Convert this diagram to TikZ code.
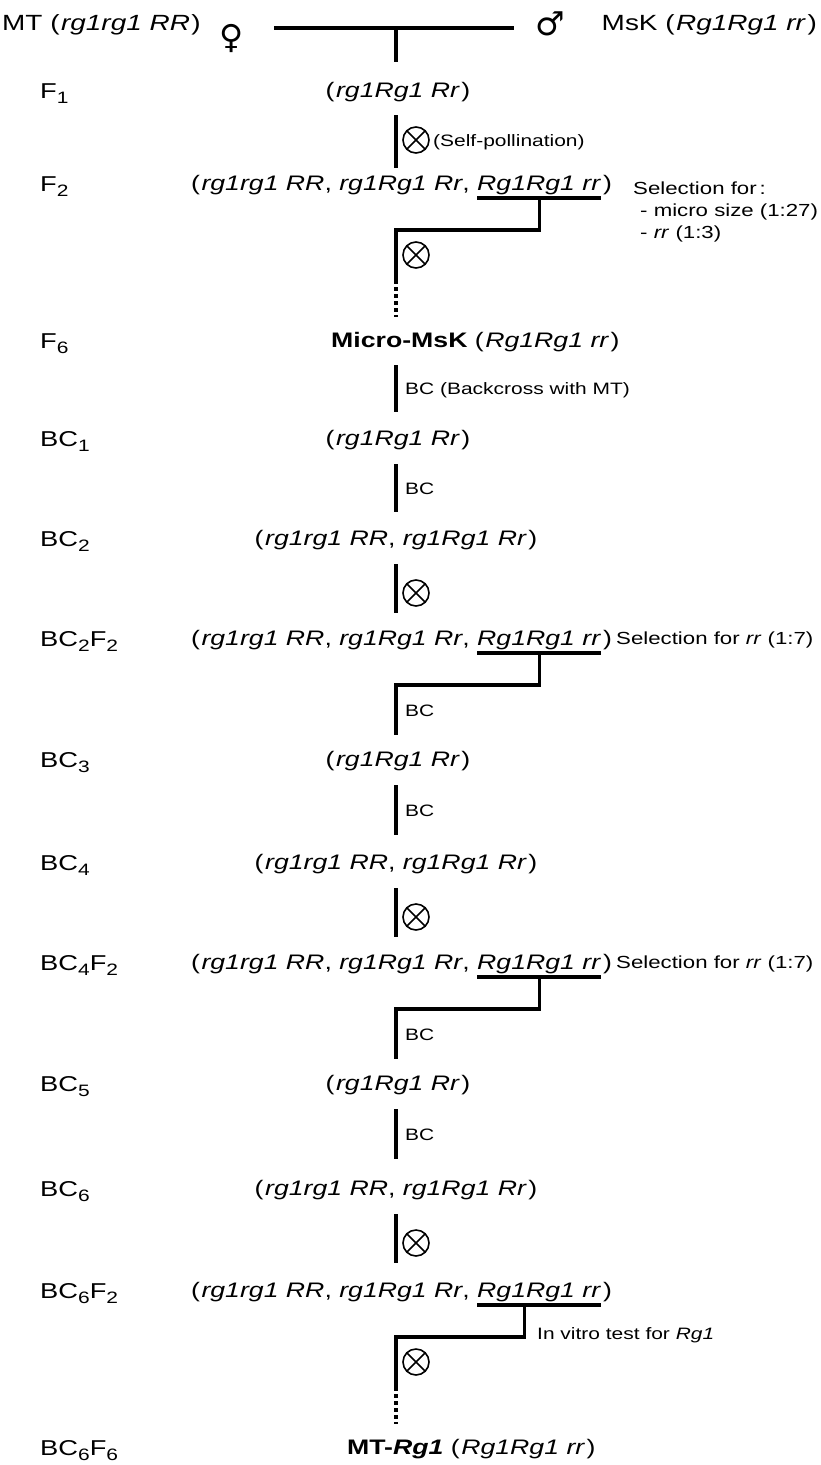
\documentclass[tikz,border=0pt]{standalone}
\usepackage{fontspec}
\setmainfont{Liberation Sans}[FakeStretch=1.27]
\newfontfamily\symf{DejaVu Sans}
\usetikzlibrary{calc}
\newcommand\lsub[1]{\raisebox{-5.5pt}{\fontsize{16.5}{17}\selectfont #1}}
\begin{document}
\begin{tikzpicture}[x=1pt,y=-1pt,
  lab/.style={anchor=base west, inner sep=0pt, font=\fontsize{21.5}{26}\selectfont},
  head/.style={inner sep=0pt, font=\fontsize{22}{26}\selectfont},
  geno/.style={inner sep=0pt, font=\fontsize{21}{25}\selectfont},
  ann/.style={anchor=base west, inner sep=0pt, font=\fontsize{16.5}{20}\selectfont},
  sel/.style={anchor=base west, inner sep=0pt, font=\fontsize{17.5}{21}\selectfont},
  sym/.style={inner sep=0pt, font=\symf\bfseries\fontsize{33}{33}\selectfont},
  link/.style={line width=3.2pt},
  dots/.style={line width=3.4pt, dash pattern=on 3.5pt off 3.5pt},
  selfx/.style={circle, draw, line width=1.6pt, minimum width=26pt, inner sep=0pt,
    path picture={\draw[line width=1.6pt] (path picture bounding box.south west) -- (path picture bounding box.north east)
      (path picture bounding box.north west) -- (path picture bounding box.south east);}},
]
\useasboundingbox (0,0) rectangle (821,1465);

% ---------- header ----------
\node[head, anchor=base west] (mt) at (2,30) {MT (\kern1.5pt\textit{rg1rg1 RR}\kern1.5pt)};
\node[sym] (fem) at (232,38) {♀};
\node[sym] (mal) at (550,24) {♂};
\node[head, anchor=base east] (msk) at (817,30) {MsK (\kern1.5pt\textit{Rg1Rg1 rr}\kern1.5pt)};
\coordinate (hl) at (274,28); \coordinate (hr) at (514,28);
\coordinate (hm) at (396,28); \coordinate (hb) at (396,62);
\draw[link] (hl) -- (hr);
\draw[link] (hm) -- (hb);

% ---------- F1 ----------
\node[lab] (lF1) at (40,98) {F\lsub{1}};
\node[geno, anchor=base] (gF1) at (398,97.5) {(\kern1.5pt\textit{rg1Rg1 Rr}\kern1.5pt)};
\coordinate (c1t) at (396,115); \coordinate (c1b) at (396,168);
\draw[link] (c1t) -- (c1b);
\node[selfx] (x1) at (416,140) {};
\node[ann] (sp) at (433,146) {(Self-pollination)};

% ---------- F2 ----------
\node[lab] (lF2) at (40,191) {F\lsub{2}};
\node[geno, anchor=base west] (gF2b) at (477,190.5) {\textit{Rg1Rg1 rr}};
\node[geno, anchor=base east] (gF2a) at ([xshift=-7pt]gF2b.base west) {(\kern1.5pt\textit{rg1rg1 RR}, \textit{rg1Rg1 Rr},};
\node[geno, anchor=base west] (gF2c) at (gF2b.base east) {\kern1.5pt)};
\coordinate (u2l) at ([yshift=-7.5pt]gF2b.base west);
\coordinate (u2r) at ([yshift=-7.5pt]gF2b.base east);
\coordinate (k2) at ($(u2l)!.5!(u2r)$);
\coordinate (j2) at (396,230); \coordinate (e2) at (396,280); \coordinate (d2) at (396,317);
\draw[link] (u2l) -- (u2r);
\draw[link] (k2) |- (j2) -- (e2);
\draw[dots] (e2) -- (d2);
\node[selfx] (x2) at (416,255) {};
\node[sel] (sel1) at (633,194) {Selection for\,:};
\node[sel] (sel2) at (640,216) {- micro size (1:27)};
\node[sel] (sel3) at (640,238) {- \textit{rr} (1:3)};

% ---------- F6 ----------
\node[lab] (lF6) at (40,348) {F\lsub{6}};
\node[geno, anchor=base west] (gF6) at (331,347.5) {\textbf{Micro-MsK} (\kern1.5pt\textit{Rg1Rg1 rr}\kern1.5pt)};
\coordinate (c6t) at (396,365); \coordinate (c6b) at (396,412);
\draw[link] (c6t) -- (c6b);
\node[ann] (bcm) at (405,394) {BC (Backcross with MT)};

% ---------- BC1 ----------
\node[lab] (lB1) at (40,446) {BC\lsub{1}};
\node[geno, anchor=base] (gB1) at (398,445.5) {(\kern1.5pt\textit{rg1Rg1 Rr}\kern1.5pt)};
\coordinate (c7t) at (396,464); \coordinate (c7b) at (396,512);
\draw[link] (c7t) -- (c7b);
\node[ann] (bc7) at (405,494) {BC};

% ---------- BC2 ----------
\node[lab] (lB2) at (40,546) {BC\lsub{2}};
\node[geno, anchor=base] (gB2) at (396,545.5) {(\kern1.5pt\textit{rg1rg1 RR}, \textit{rg1Rg1 Rr}\kern1.5pt)};
\coordinate (c8t) at (396,564); \coordinate (c8b) at (396,613);
\draw[link] (c8t) -- (c8b);
\node[selfx] (x8) at (416,593) {};

% ---------- BC2F2 ----------
\node[lab] (lB2F2) at (40,646) {BC\lsub{2}F\lsub{2}};
\node[geno, anchor=base west] (gB2b) at (477,645.5) {\textit{Rg1Rg1 rr}};
\node[geno, anchor=base east] (gB2a) at ([xshift=-7pt]gB2b.base west) {(\kern1.5pt\textit{rg1rg1 RR}, \textit{rg1Rg1 Rr},};
\node[geno, anchor=base west] (gB2c) at (gB2b.base east) {\kern1.5pt)};
\coordinate (u9l) at ([yshift=-7.5pt]gB2b.base west);
\coordinate (u9r) at ([yshift=-7.5pt]gB2b.base east);
\coordinate (k9) at ($(u9l)!.5!(u9r)$);
\coordinate (j9) at (396,685); \coordinate (e9) at (396,735);
\draw[link] (u9l) -- (u9r);
\draw[link] (k9) |- (j9) -- (e9);
\node[ann] (bc9) at (405,716) {BC};
\node[sel] (sel4) at (616,644) {Selection for \textit{rr} (1:7)};

% ---------- BC3 ----------
\node[lab] (lB3) at (40,767) {BC\lsub{3}};
\node[geno, anchor=base] (gB3) at (398,766.5) {(\kern1.5pt\textit{rg1Rg1 Rr}\kern1.5pt)};
\coordinate (c10t) at (396,785); \coordinate (c10b) at (396,835);
\draw[link] (c10t) -- (c10b);
\node[ann] (bc10) at (405,816) {BC};

% ---------- BC4 ----------
\node[lab] (lB4) at (40,870) {BC\lsub{4}};
\node[geno, anchor=base] (gB4) at (396,869.5) {(\kern1.5pt\textit{rg1rg1 RR}, \textit{rg1Rg1 Rr}\kern1.5pt)};
\coordinate (c11t) at (396,888); \coordinate (c11b) at (396,937);
\draw[link] (c11t) -- (c11b);
\node[selfx] (x11) at (416,917) {};

% ---------- BC4F2 ----------
\node[lab] (lB4F2) at (40,970) {BC\lsub{4}F\lsub{2}};
\node[geno, anchor=base west] (gB4b) at (477,969.5) {\textit{Rg1Rg1 rr}};
\node[geno, anchor=base east] (gB4a) at ([xshift=-7pt]gB4b.base west) {(\kern1.5pt\textit{rg1rg1 RR}, \textit{rg1Rg1 Rr},};
\node[geno, anchor=base west] (gB4c) at (gB4b.base east) {\kern1.5pt)};
\coordinate (u12l) at ([yshift=-7.5pt]gB4b.base west);
\coordinate (u12r) at ([yshift=-7.5pt]gB4b.base east);
\coordinate (k12) at ($(u12l)!.5!(u12r)$);
\coordinate (j12) at (396,1009); \coordinate (e12) at (396,1059);
\draw[link] (u12l) -- (u12r);
\draw[link] (k12) |- (j12) -- (e12);
\node[ann] (bc12) at (405,1040) {BC};
\node[sel] (sel5) at (616,968) {Selection for \textit{rr} (1:7)};

% ---------- BC5 ----------
\node[lab] (lB5) at (40,1091) {BC\lsub{5}};
\node[geno, anchor=base] (gB5) at (398,1090.5) {(\kern1.5pt\textit{rg1Rg1 Rr}\kern1.5pt)};
\coordinate (c13t) at (396,1109); \coordinate (c13b) at (396,1159);
\draw[link] (c13t) -- (c13b);
\node[ann] (bc13) at (405,1140) {BC};

% ---------- BC6 ----------
\node[lab] (lB6) at (40,1196) {BC\lsub{6}};
\node[geno, anchor=base] (gB6) at (396,1195.5) {(\kern1.5pt\textit{rg1rg1 RR}, \textit{rg1Rg1 Rr}\kern1.5pt)};
\coordinate (c14t) at (396,1214); \coordinate (c14b) at (396,1263);
\draw[link] (c14t) -- (c14b);
\node[selfx] (x14) at (416,1243) {};

% ---------- BC6F2 ----------
\node[lab] (lB6F2) at (40,1298) {BC\lsub{6}F\lsub{2}};
\node[geno, anchor=base west] (gB6b) at (477,1297.5) {\textit{Rg1Rg1 rr}};
\node[geno, anchor=base east] (gB6a) at ([xshift=-7pt]gB6b.base west) {(\kern1.5pt\textit{rg1rg1 RR}, \textit{rg1Rg1 Rr},};
\node[geno, anchor=base west] (gB6c) at (gB6b.base east) {\kern1.5pt)};
\coordinate (u15l) at ([yshift=-7.5pt]gB6b.base west);
\coordinate (u15r) at ([yshift=-7.5pt]gB6b.base east);
\coordinate (k15) at ($(u15l)!.38!(u15r)$);
\coordinate (j15) at (396,1337); \coordinate (e15) at (396,1387); \coordinate (d15) at (396,1424);
\draw[link] (u15l) -- (u15r);
\draw[link] (k15) |- (j15) -- (e15);
\draw[dots] (e15) -- (d15);
\node[selfx] (x15) at (416,1362) {};
\node[ann] (vit) at (537,1339) {In vitro test for \textit{Rg1}};

% ---------- BC6F6 ----------
\node[lab] (lB6F6) at (40,1455) {BC\lsub{6}F\lsub{6}};
\node[geno, anchor=base west] (gB6F6) at (347,1454.5) {\textbf{MT-\textit{Rg1}} (\kern1.5pt\textit{Rg1Rg1 rr}\kern1.5pt)};
\end{tikzpicture}
\end{document}
